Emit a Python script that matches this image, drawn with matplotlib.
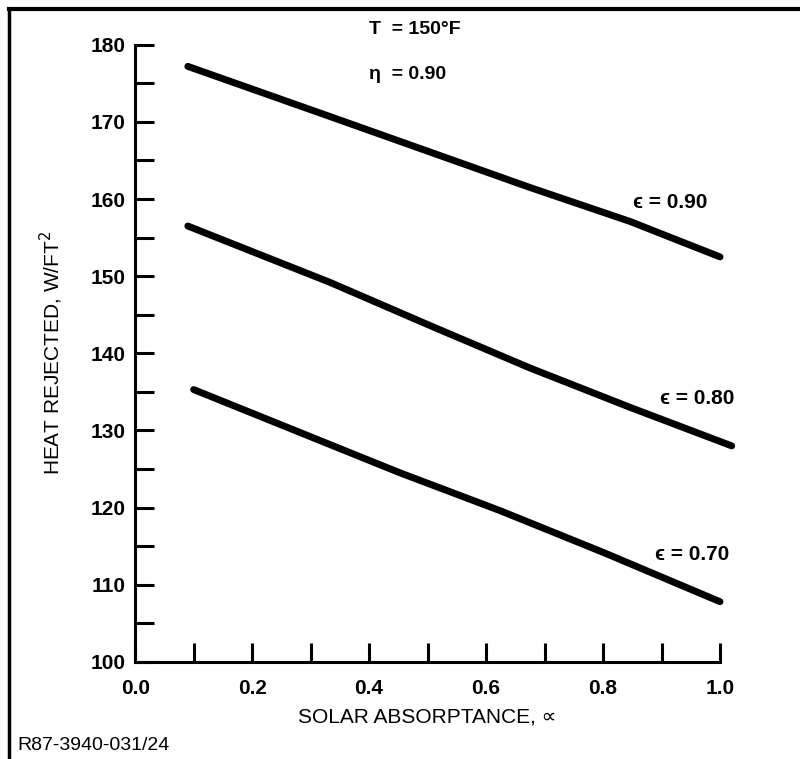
import numpy as np
import matplotlib.pyplot as plt
from matplotlib.lines import Line2D

plt.rcParams['font.family'] = ['Liberation Sans', 'DejaVu Sans']

# alpha (solar absorptance) vs heat rejected for three emittances
x_90 = [0.09, 0.333, 0.504, 0.675, 0.846, 1.0]
y_90 = [177.2, 170.7, 166.1, 161.5, 157.1, 152.5]
x_80 = [0.09, 0.333, 0.504, 0.675, 0.846, 1.02]
y_80 = [156.5, 149.2, 143.6, 138.1, 133.0, 128.0]
x_70 = [0.10, 0.453, 0.624, 0.80, 1.0]
y_70 = [135.3, 124.5, 119.6, 114.2, 107.8]
labels = ['\u03f5 = 0.90', '\u03f5 = 0.80', '\u03f5 = 0.70']

fig = plt.figure(figsize=(8, 7.59), dpi=100)
ax = fig.add_axes([0.169, 0.128, 0.731, 0.813])

for xs, ys in [(x_90, y_90), (x_80, y_80), (x_70, y_70)]:
    ax.plot(xs, ys, color='black', lw=5, solid_capstyle='round', clip_on=False)

ax.set_xlim(0, 1.0)
ax.set_ylim(100, 180)
ax.spines['top'].set_visible(False)
ax.spines['right'].set_visible(False)
ax.spines['left'].set_linewidth(2.2)
ax.spines['bottom'].set_linewidth(2.2)

ax.set_xticks(np.arange(0, 1.01, 0.2))
ax.set_xticks(np.arange(0.1, 1.0, 0.2), minor=True)
ax.set_yticks(np.arange(100, 181, 10))
ax.set_yticks(np.arange(105, 180, 10), minor=True)
ax.tick_params(which='both', direction='in', length=14, width=2.2, labelsize=15)
ax.tick_params(axis='x', pad=12)
ax.tick_params(axis='y', pad=7)
ax.set_xticklabels(['0.0', '0.2', '0.4', '0.6', '0.8', '1.0'], fontweight='bold')
ax.set_yticklabels([str(v) for v in range(100, 181, 10)], fontweight='bold')

ax.set_xlabel('SOLAR ABSORPTANCE, \u221d', fontsize=15, labelpad=7)
ax.set_ylabel('HEAT REJECTED, W/FT$^2$', fontsize=15, labelpad=18)

ax.text(0.40, 182.0, 'T  = 150\u00b0F', fontsize=14, fontweight='bold', ha='left', va='center')
ax.text(0.40, 176.2, '\u03b7  = 0.90', fontsize=14, fontweight='bold', ha='left', va='center')
ax.text(0.851, 159.5, labels[0], fontsize=15, fontweight='bold', ha='left', va='center')
ax.text(0.897, 134.2, labels[1], fontsize=15, fontweight='bold', ha='left', va='center')
ax.text(0.889, 113.9, labels[2], fontsize=15, fontweight='bold', ha='left', va='center')

fig.text(0.022, 0.018, 'R87-3940-031/24', fontsize=14, ha='left', va='center')

# outer frame (left and top edges)
fig.add_artist(Line2D([0.011, 0.011], [0.0, 0.988], color='black', lw=2.5))
fig.add_artist(Line2D([0.011, 1.0], [0.988, 0.988], color='black', lw=3))

fig.savefig('out.png', dpi=100)
